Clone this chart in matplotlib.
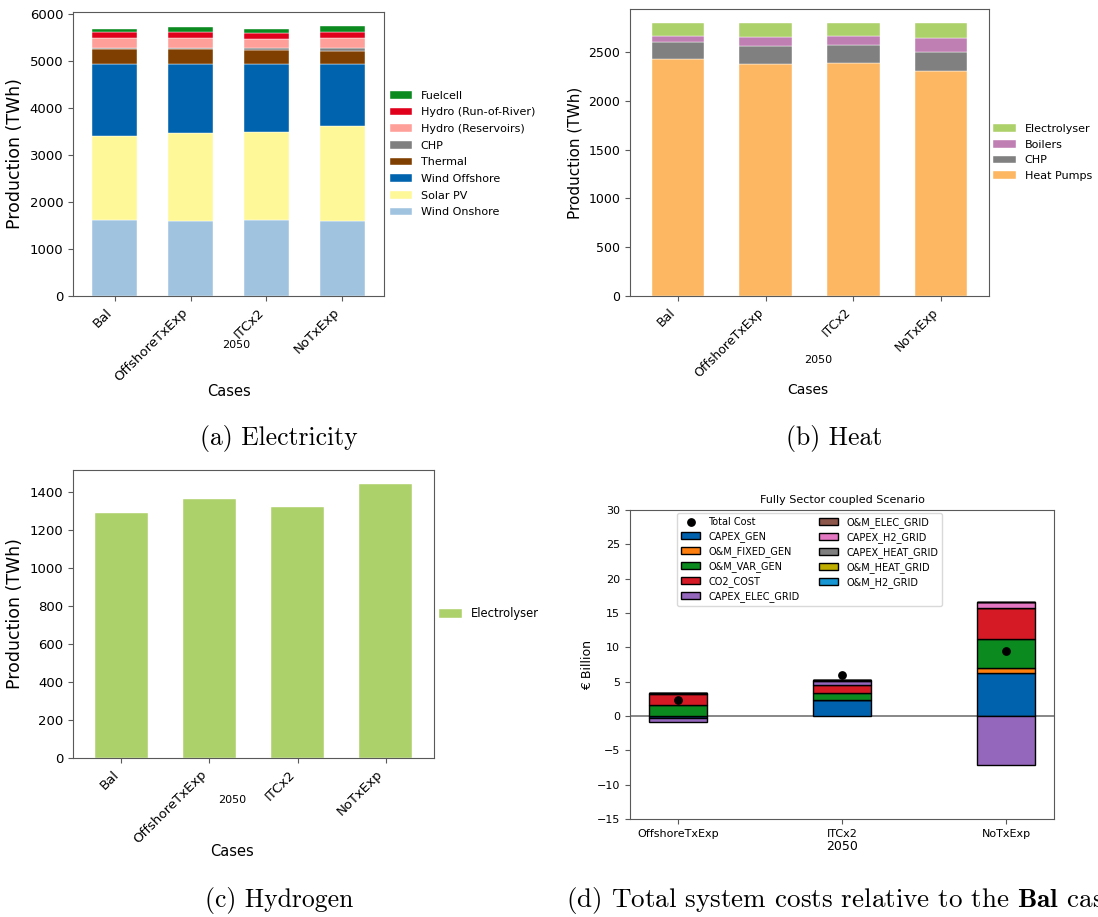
import numpy as np
import matplotlib.pyplot as plt

plt.rcParams['mathtext.fontset'] = 'cm'

W, H = 1098, 917

cases = ['Bal', 'OffshoreTxExp', 'ITCx2', 'NoTxExp']

# electricity production (TWh), stacked bottom -> top
elec_names = ['Wind Onshore', 'Solar PV', 'Wind Offshore', 'Thermal', 'CHP',
              'Hydro (Reservoirs)', 'Hydro (Run-of-River)', 'Fuelcell']
wind_onshore = [1617, 1602, 1617, 1602]
solar_pv = [1787, 1858, 1872, 2007]
wind_offshore = [1532, 1476, 1447, 1327]
thermal = [313, 313, 300, 285]
chp_elec = [36, 36, 41, 60]
hydro_res = [198, 198, 185, 198]
hydro_ror = [134, 128, 127, 128]
fuelcell = [57, 112, 92, 147]
elec_colors = ['#a0c4e0', '#fff899', '#0063ad', '#7f3f00', '#808080',
               '#ff9f9a', '#e0001b', '#0a8a1f']

# heat production (TWh)
heat_names = ['Heat Pumps', 'CHP', 'Boilers', 'Electrolyser']
heat_pumps = [2423, 2378, 2385, 2300]
chp_heat = [177, 178, 184, 201]
boilers = [61, 95, 92, 143]
electrolyser_heat = [139, 149, 139, 156]
heat_colors = ['#fdb762', '#808080', '#c07fb3', '#add16a']

# hydrogen production (TWh)
electrolyser_h2 = [1288, 1359, 1317, 1441]

# system cost deltas vs Bal (EUR billion)
cost_cases = ['OffshoreTxExp', 'ITCx2', 'NoTxExp']
cost_names = ['CAPEX_GEN', 'O&M_FIXED_GEN', 'O&M_VAR_GEN', 'CO2_COST',
              'CAPEX_ELEC_GRID', 'O&M_ELEC_GRID', 'CAPEX_H2_GRID',
              'CAPEX_HEAT_GRID', 'O&M_HEAT_GRID', 'O&M_H2_GRID']
capex_gen = [-0.30, 2.31, 6.25]
om_fixed_gen = [0.0, 0.05, 0.72]
om_var_gen = [1.59, 1.05, 4.28]
co2_cost = [1.68, 1.06, 4.45]
capex_elec_grid = [-0.55, 0.63, -7.20]
om_elec_grid = [0.08, 0.15, 0.0]
capex_h2_grid = [0.0, 0.0, 0.90]
capex_heat_grid = [0.0, 0.0, 0.0]
om_heat_grid = [0.0, 0.0, 0.0]
om_h2_grid = [0.0, 0.0, 0.0]
total_cost = [2.40, 5.95, 9.45]
cost_colors = ['#0062ad', '#ff7f0e', '#0a8a1f', '#d61a25', '#9467bd',
               '#8c564b', '#e377c2', '#7f7f7f', '#bfae00', '#1696d2']

SPINE = '0.35'


def add_ax(l, t, r, b):
    return fig.add_axes([l / W, 1 - b / H, (r - l) / W, (b - t) / H])


def px(x, y):
    return x / W, 1 - y / H


def style(ax, size):
    for s in ax.spines.values():
        s.set_color(SPINE)
    ax.tick_params(colors=SPINE, labelcolor='black', labelsize=size)


def stacked(ax, series, names, colors):
    x = np.arange(len(cases))
    bottom = np.zeros(len(cases))
    for vals, name, c in zip(series, names, colors):
        ax.bar(x, vals, 0.6, bottom=bottom, color=c, label=name,
               edgecolor='white', linewidth=0.3)
        bottom += np.array(vals)
    ax.set_xlim(-0.55, 3.55)
    ax.set_xticks(x, cases, rotation=45, ha='right')


fig = plt.figure(figsize=(W / 100, H / 100), dpi=100)

# (a) electricity
ax_a = add_ax(73, 12, 384, 296)
stacked(ax_a, [wind_onshore, solar_pv, wind_offshore, thermal, chp_elec,
               hydro_res, hydro_ror, fuelcell], elec_names, elec_colors)
style(ax_a, 9.5)
ax_a.set_ylabel('Production (TWh)', fontsize=12.5)
h, l = ax_a.get_legend_handles_labels()
ax_a.legend(h[::-1], l[::-1], loc='center left', bbox_to_anchor=(1, 0.5),
            frameon=False, fontsize=8, borderaxespad=0.1, labelspacing=0.6)
fig.text(*px(236, 345), '2050', ha='center', va='center', fontsize=8)
fig.text(*px(229, 391), 'Cases', ha='center', va='center', fontsize=10.5)

# (b) heat
ax_b = add_ax(630, 9, 989, 296)
stacked(ax_b, [heat_pumps, chp_heat, boilers, electrolyser_heat],
        heat_names, heat_colors)
style(ax_b, 9)
ax_b.set_ylabel('Production (TWh)', fontsize=11)
h, l = ax_b.get_legend_handles_labels()
ax_b.legend(h[::-1], l[::-1], loc='center left', bbox_to_anchor=(1, 0.5),
            frameon=False, fontsize=8, borderaxespad=0)
fig.text(*px(818, 360), '2050', ha='center', va='center', fontsize=8)
fig.text(*px(808, 390), 'Cases', ha='center', va='center', fontsize=10)

# (c) hydrogen
ax_c = add_ax(73, 470, 434, 758)
stacked(ax_c, [electrolyser_h2], ['Electrolyser'], ['#add16a'])
style(ax_c, 9.5)
ax_c.set_ylabel('Production (TWh)', fontsize=12.5)
ax_c.legend(loc='center left', bbox_to_anchor=(1, 0.5),
            frameon=False, fontsize=8.3, borderaxespad=0)
fig.text(*px(232, 800), '2050', ha='center', va='center', fontsize=8)
fig.text(*px(232, 851), 'Cases', ha='center', va='center', fontsize=10.5)

# (d) costs relative to Bal
ax_d = add_ax(630, 510, 1054, 819)
xd = np.arange(len(cost_cases))
pos = np.zeros(len(cost_cases))
neg = np.zeros(len(cost_cases))
cost_series = [capex_gen, om_fixed_gen, om_var_gen, co2_cost, capex_elec_grid,
               om_elec_grid, capex_h2_grid, capex_heat_grid, om_heat_grid,
               om_h2_grid]
handles = []
for vals, name, c in zip(cost_series, cost_names, cost_colors):
    v = np.array(vals)
    base = np.where(v >= 0, pos, neg)
    bars = ax_d.bar(xd, v, 0.35, bottom=base, color=c, edgecolor='black',
                    linewidth=1, label=name)
    handles.append(bars)
    pos += np.where(v >= 0, v, 0)
    neg += np.where(v < 0, v, 0)
dots = ax_d.scatter(xd, total_cost, color='black', s=28, zorder=5,
                    label='Total Cost')
ax_d.axhline(0, color='0.45', linewidth=1.2, zorder=0.5)
ax_d.set_ylim(-15, 30)
ax_d.set_xticks(xd, cost_cases)
style(ax_d, 8)
ax_d.set_ylabel('€ Billion', fontsize=9, labelpad=2)
ax_d.set_title('Fully Sector coupled Scenario', fontsize=8, pad=5)
ax_d.legend([dots] + handles, ['Total Cost'] + cost_names, ncol=2,
            loc='upper left', bbox_to_anchor=(0.111, 0.99),
            borderaxespad=0, fontsize=7, framealpha=1, edgecolor='0.85',
            labelspacing=0.42)
fig.text(*px(842, 846), '2050', ha='center', va='center', fontsize=9)

# captions
cap = dict(fontfamily='cmr10', fontsize=18.5, va='center')
fig.text(*px(279, 438), '(a) Electricity', ha='center', **cap)
fig.text(*px(834, 438), '(b) Heat', ha='center', **cap)
fig.text(*px(279, 900), '(c) Hydrogen', ha='center', **cap)
cap['fontsize'] = 19.5
fig.text(*px(566, 900), r'(d) Total system costs relative to the $\mathbf{Bal}$ case',
         ha='left', **cap)

fig.savefig('out.png', dpi=100)
